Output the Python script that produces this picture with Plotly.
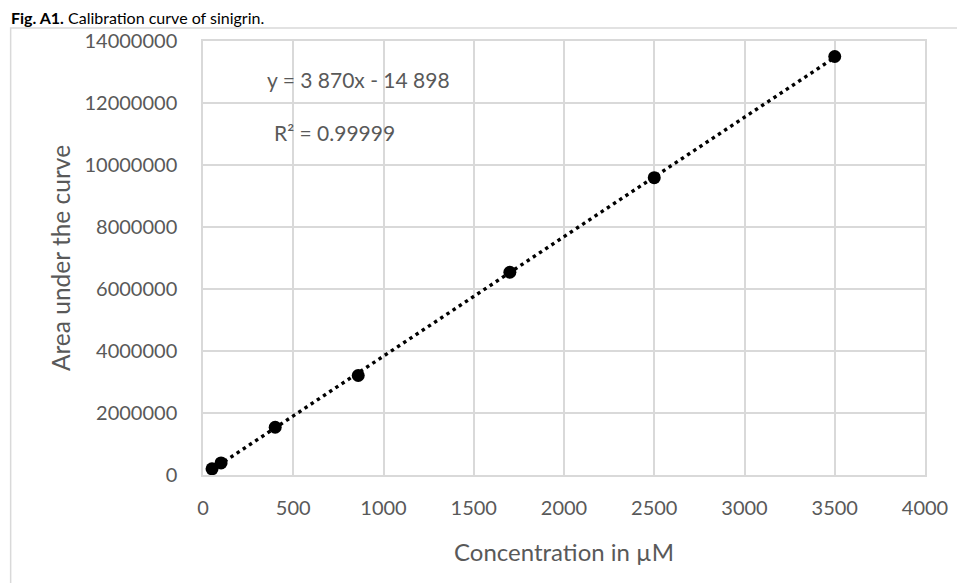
import numpy as np
import plotly.graph_objects as go

# Data
concentration = [50, 100, 400, 860, 1700, 2500, 3500]
area = [200000, 390000, 1540000, 3210000, 6540000, 9590000, 13500000]
x_ticks = [0, 500, 1000, 1500, 2000, 2500, 3000, 3500, 4000]
y_ticks = [0, 2000000, 4000000, 6000000, 8000000, 10000000, 12000000, 14000000]
equation_text = "y = 3 870x - 14 898"
r2_text = "R² = 0.99999"
title_bold = "Fig. A1."
title_rest = " Calibration curve of sinigrin."

# linear trendline (least squares fit, as the spreadsheet does)
slope, intercept = np.polyfit(concentration, area, 1)
trend_x = [min(concentration), max(concentration)]
trend_y = [slope * v + intercept for v in trend_x]

# page is offset by the default 8px body margin
OFF = 8
PAGE_W, PAGE_H = 965, 583
W, H = PAGE_W - OFF, PAGE_H - OFF
# plot area in page pixels
PL, PR, PT, PB = 202.5, 925, 41, 475.5
ml, mt = PL - OFF, PT - OFF
mr, mb = W - (PR - OFF), H - (PB - OFF)
pw = PR - PL
ph = PB - PT

def px_x(p):
    return (p - PL) / pw

def px_y(p):
    return (PB - p) / ph

FONT = "Lato"
GRAY = "#595959"
GRID = "#d9d9d9"

fig = go.Figure()
fig.add_trace(go.Scatter(
    x=trend_x, y=trend_y, mode="lines",
    line=dict(color="black", width=3.4, dash="3.4px,4px"),
    hoverinfo="skip", showlegend=False,
))
fig.add_trace(go.Scatter(
    x=concentration, y=area, mode="markers",
    marker=dict(color="black", size=13, line=dict(width=0)),
    showlegend=False,
))

fig.update_layout(
    width=W, height=H,
    margin=dict(l=ml, r=mr, t=mt, b=mb, autoexpand=False),
    paper_bgcolor="white", plot_bgcolor="white",
    font=dict(family=FONT, size=20, color=GRAY),
    xaxis=dict(
        range=[0, 4000], tickvals=x_ticks, ticktext=[str(t) for t in x_ticks],
        showgrid=True, gridcolor=GRID, gridwidth=1.5,
        zeroline=False, showline=True, mirror=True, linecolor=GRID, linewidth=1.5,
        ticks="", ticklabelstandoff=14,
        title=dict(text="Concentration in µM", font=dict(size=24, color=GRAY), standoff=26),
    ),
    yaxis=dict(
        range=[0, 14000000], tickvals=y_ticks, ticktext=[str(t) for t in y_ticks],
        showgrid=True, gridcolor=GRID, gridwidth=1.5,
        zeroline=False, showline=True, mirror=True, linecolor=GRID, linewidth=1.5,
        ticks="", ticklabelstandoff=20,
        title=dict(text="Area under the curve", font=dict(size=24.5, color=GRAY), standoff=7),
    ),
    shapes=[dict(
        type="rect", xref="paper", yref="paper",
        x0=px_x(10), x1=px_x(985), y0=px_y(610), y1=px_y(28),
        line=dict(color=GRID, width=1.5), fillcolor="rgba(0,0,0,0)", layer="below",
    )],
    annotations=[
        dict(text=equation_text, xref="paper", yref="paper", x=px_x(265), y=px_y(80),
             xanchor="left", yanchor="middle", showarrow=False,
             font=dict(size=21, color=GRAY, family=FONT)),
        dict(text=r2_text, xref="paper", yref="paper", x=px_x(272), y=px_y(133),
             xanchor="left", yanchor="middle", showarrow=False,
             font=dict(size=21, color=GRAY, family=FONT)),
        dict(text="<b>" + title_bold + "</b>" + title_rest, xref="paper", yref="paper",
             x=px_x(8), y=px_y(17), xanchor="left", yanchor="middle", showarrow=False,
             font=dict(size=16, color="black", family=FONT)),
    ],
)

fig.write_html("out.html")
